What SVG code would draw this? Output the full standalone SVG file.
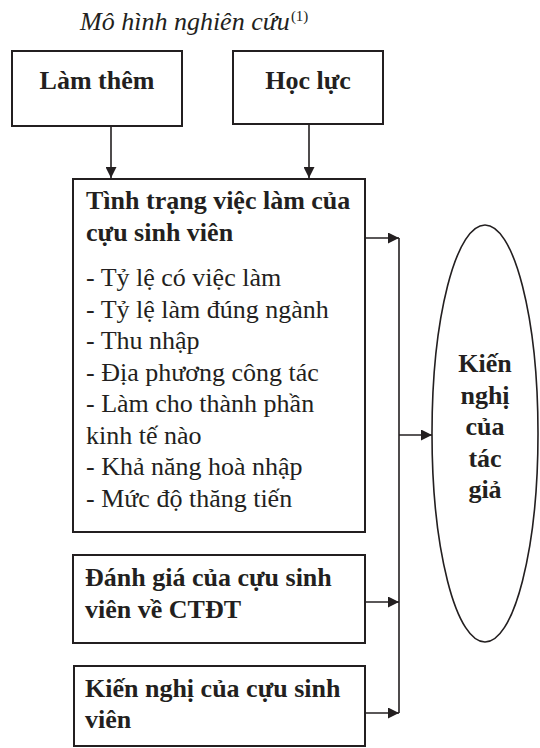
<svg xmlns="http://www.w3.org/2000/svg" width="540" height="748" viewBox="0 0 540 748">
<style>
.box{fill:#fff;stroke:#231f20;stroke-width:2}
.ell{fill:#fff;stroke:#231f20;stroke-width:1.6}
.con{fill:none;stroke:#231f20;stroke-width:1.6}
.b{font-family:"Liberation Serif","Times New Roman",serif;font-weight:bold;font-size:26px;fill:#231f20}
.r{font-family:"Liberation Serif","Times New Roman",serif;font-size:26px;fill:#231f20}
.t{font-family:"Liberation Serif","Times New Roman",serif;font-style:italic;font-size:26px;fill:#231f20}
</style>
<defs>
<marker id="ah" markerUnits="userSpaceOnUse" markerWidth="11" markerHeight="11" refX="11" refY="5.5" orient="auto">
<path d="M0,0 L11,5.5 L0,11 z" fill="#231f20"/>
</marker>
</defs>
<rect width="540" height="748" fill="#fff"/>
<text class="t" x="80" y="30">Mô hình nghiên cứu<tspan font-size="15" font-style="normal" dx="1" dy="-9">(1)</tspan></text>

<g id="node-lamthem">
<rect class="box" x="12" y="51" width="170" height="75"/>
<text class="b" x="97" y="89" text-anchor="middle">Làm thêm</text>
</g>
<g id="node-hocluc">
<rect class="box" x="233" y="51" width="150" height="73"/>
<text class="b" x="308" y="89" text-anchor="middle">Học lực</text>
</g>
<g id="node-tinhtrang">
<rect class="box" x="73" y="179" width="292" height="353"/>
<text class="b" x="86" y="209">Tình trạng việc làm của</text>
<text class="b" x="86" y="241">cựu sinh viên</text>
<text class="r" x="86" y="286">- Tỷ lệ có việc làm</text>
<text class="r" x="86" y="317.5">- Tỷ lệ làm đúng ngành</text>
<text class="r" x="86" y="349">- Thu nhập</text>
<text class="r" x="86" y="380.5">- Địa phương công tác</text>
<text class="r" x="86" y="412">- Làm cho thành phần</text>
<text class="r" x="86" y="443.5">kinh tế nào</text>
<text class="r" x="86" y="475">- Khả năng hoà nhập</text>
<text class="r" x="86" y="506.5">- Mức độ thăng tiến</text>
</g>
<g id="node-danhgia">
<rect class="box" x="73" y="555" width="292" height="88"/>
<text class="b" x="85" y="586">Đánh giá của cựu sinh</text>
<text class="b" x="85" y="618">viên về CTĐT</text>
</g>
<g id="node-kiennghi-sv">
<rect class="box" x="74" y="666" width="291" height="80"/>
<text class="b" x="85" y="697">Kiến nghị của cựu sinh</text>
<text class="b" x="85" y="728">viên</text>
</g>
<g id="node-kiennghi-tg">
<ellipse class="ell" cx="485" cy="433.5" rx="53" ry="208.5"/>
<text class="b" x="485" y="372" text-anchor="middle">Kiến</text>
<text class="b" x="485" y="403.5" text-anchor="middle">nghị</text>
<text class="b" x="485" y="435" text-anchor="middle">của</text>
<text class="b" x="485" y="466.5" text-anchor="middle">tác</text>
<text class="b" x="485" y="498" text-anchor="middle">giả</text>
</g>

<g id="connectors">
<line class="con" x1="111" y1="126" x2="111" y2="178" marker-end="url(#ah)"/>
<line class="con" x1="309" y1="124" x2="309" y2="178" marker-end="url(#ah)"/>
<line class="con" x1="365" y1="238" x2="399" y2="238" marker-end="url(#ah)"/>
<line class="con" x1="365" y1="602" x2="399" y2="602" marker-end="url(#ah)"/>
<line class="con" x1="365" y1="713" x2="399" y2="713" marker-end="url(#ah)"/>
<line class="con" x1="399" y1="238" x2="399" y2="713"/>
<line class="con" x1="399" y1="435" x2="432" y2="435" marker-end="url(#ah)"/>
</g>
</svg>
